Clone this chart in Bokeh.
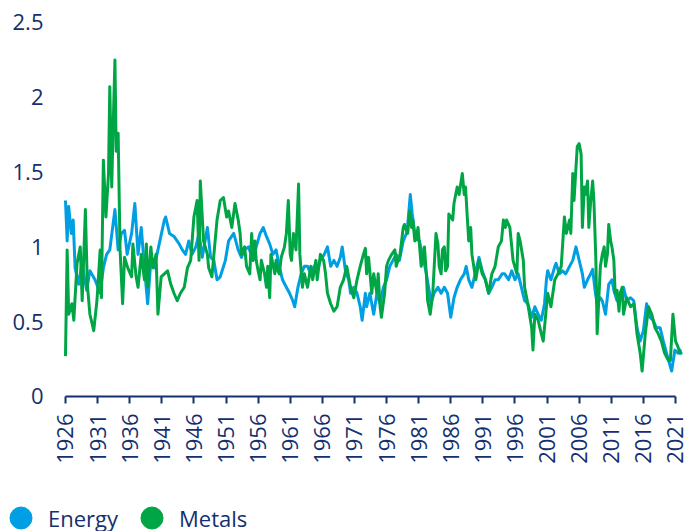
import math
from bokeh.plotting import figure
from bokeh.models import FixedTicker, Legend, LegendItem, Range1d
from bokeh.embed import file_html
from bokeh.resources import INLINE

# ---- data ----
energy_years = [
    1926.0, 1926.26, 1926.5, 1926.9, 1927.2, 1927.5, 1928.05, 1928.56, 1929.3, 1929.8,
    1930.6, 1931.4, 1931.9, 1932.4, 1932.9, 1933.7, 1934.2, 1934.7, 1935.2, 1935.6,
    1936.3, 1936.8, 1937.3, 1937.8, 1938.3, 1938.8, 1939.3, 1939.8, 1940.6, 1941.4,
    1941.6, 1942.2, 1942.9, 1943.7, 1944.2, 1944.7, 1945.2, 1945.7, 1946.3, 1946.8,
    1947.3, 1948.1, 1948.6, 1949.1, 1949.6, 1950.1, 1950.9, 1951.4, 1952.2, 1952.9,
    1953.4, 1953.9, 1954.5, 1955.2, 1955.7, 1956.3, 1956.8, 1957.3, 1957.8, 1958.3,
    1958.8, 1959.3, 1959.8, 1960.4, 1960.9, 1961.4, 1961.7, 1962.2, 1962.7, 1963.2,
    1963.7, 1964.2, 1964.7, 1965.2, 1965.7, 1966.3, 1966.8, 1967.3, 1967.8, 1968.3,
    1968.8, 1969.1, 1969.6, 1970.1, 1970.4, 1970.9, 1971.4, 1971.9, 1972.2, 1972.7,
    1972.9, 1973.4, 1974.0, 1974.5, 1975.0, 1975.5, 1976.0, 1976.5, 1977.0, 1977.5,
    1978.0, 1978.6, 1979.1, 1979.3, 1979.7, 1980.0, 1980.4, 1980.6, 1981.1, 1981.6,
    1982.2, 1982.7, 1982.9, 1983.4, 1984.0, 1984.5, 1985.0, 1985.5, 1986.0, 1986.5,
    1987.0, 1987.5, 1988.1, 1988.4, 1988.8, 1989.3, 1989.8, 1990.4, 1990.9, 1991.4,
    1991.9, 1992.4, 1992.9, 1993.4, 1994.0, 1994.4, 1995.0, 1995.5, 1996.0, 1996.5,
    1997.0, 1997.5, 1998.0, 1998.6, 1999.1, 1999.6, 2000.1, 2000.6, 2000.9, 2001.1,
    2001.6, 2002.2, 2002.4, 2002.9, 2003.4, 2003.9, 2004.5, 2005.0, 2005.5, 2006.0,
    2006.5, 2006.8, 2007.3, 2007.8, 2008.1, 2008.5, 2008.8, 2009.3, 2009.6, 2010.1,
    2010.6, 2011.1, 2011.4, 2011.9, 2012.4, 2012.9, 2013.4, 2014.0, 2014.5, 2015.0,
    2015.5, 2016.0, 2016.5, 2017.0, 2017.5, 2018.0, 2018.6, 2019.1, 2019.6, 2020.4,
    2020.9, 2021.4, 2021.7, 2021.9,
]
energy_values = [
    1.31, 1.04, 1.27, 1.09, 1.18, 0.86, 0.75, 0.89, 0.71, 0.84,
    0.78, 0.69, 0.86, 0.95, 0.98, 1.25, 0.98, 1.09, 1.11, 0.95,
    1.09, 1.29, 0.95, 1.13, 0.86, 0.62, 0.91, 0.86, 1.02, 1.18,
    1.20, 1.09, 1.07, 1.02, 0.98, 0.95, 1.04, 0.95, 1.00, 1.09,
    0.93, 1.13, 0.93, 0.91, 0.78, 0.80, 0.91, 1.04, 1.09, 0.98,
    0.93, 0.98, 1.00, 0.91, 1.00, 1.09, 1.13, 1.07, 1.02, 0.95,
    0.98, 0.87, 0.78, 0.73, 0.69, 0.64, 0.60, 0.73, 0.82, 0.87,
    0.87, 0.82, 0.87, 0.84, 0.91, 0.95, 1.00, 0.87, 0.91, 0.87,
    0.93, 1.00, 0.84, 0.78, 0.69, 0.73, 0.69, 0.60, 0.51, 0.69,
    0.60, 0.69, 0.55, 0.69, 0.62, 0.73, 0.78, 0.87, 0.91, 0.95,
    0.91, 1.04, 1.09, 1.15, 1.35, 1.22, 1.09, 1.06, 1.04, 0.95,
    0.82, 0.69, 0.62, 0.69, 0.73, 0.69, 0.73, 0.69, 0.53, 0.66,
    0.73, 0.78, 0.82, 0.87, 0.78, 0.73, 0.82, 0.93, 0.84, 0.78,
    0.69, 0.73, 0.78, 0.78, 0.82, 0.82, 0.78, 0.84, 0.78, 0.82,
    0.73, 0.64, 0.62, 0.53, 0.60, 0.55, 0.51, 0.62, 0.78, 0.84,
    0.78, 0.87, 0.89, 0.82, 0.84, 0.82, 0.87, 0.91, 1.00, 0.91,
    0.82, 0.73, 0.78, 0.82, 0.85, 0.70, 0.62, 0.66, 0.64, 0.55,
    0.75, 0.78, 0.71, 0.64, 0.69, 0.73, 0.64, 0.66, 0.64, 0.46,
    0.37, 0.44, 0.62, 0.53, 0.51, 0.46, 0.46, 0.37, 0.29, 0.17,
    0.31, 0.29, 0.31, 0.28,
]

metals_years = [
    1926.0, 1926.26, 1926.5, 1927.0, 1927.3, 1927.8, 1928.3, 1928.6, 1929.1, 1929.4,
    1929.8, 1930.4, 1930.9, 1931.4, 1931.6, 1931.9, 1932.3, 1932.7, 1932.9, 1933.2,
    1933.4, 1933.7, 1933.9, 1934.2, 1934.5, 1934.9, 1935.2, 1935.7, 1936.3, 1936.5,
    1937.0, 1937.3, 1937.8, 1938.3, 1938.6, 1938.8, 1939.3, 1939.6, 1940.1, 1940.4,
    1940.9, 1941.4, 1941.9, 1942.4, 1942.9, 1943.4, 1943.9, 1944.5, 1945.0, 1945.5,
    1946.0, 1946.5, 1946.8, 1947.0, 1947.5, 1948.1, 1948.3, 1948.8, 1949.6, 1950.1,
    1950.6, 1951.1, 1951.4, 1951.9, 1952.4, 1952.9, 1953.2, 1953.4, 1953.9, 1954.2,
    1954.7, 1955.0, 1955.2, 1955.5, 1955.7, 1956.0, 1956.3, 1956.5, 1957.0, 1957.3,
    1957.5, 1957.8, 1958.0, 1958.6, 1958.8, 1959.1, 1959.3, 1959.6, 1960.1, 1960.4,
    1960.7, 1961.0, 1961.2, 1961.5, 1961.9, 1962.3, 1962.5, 1962.9, 1963.2, 1963.7,
    1964.2, 1964.5, 1965.0, 1965.2, 1965.7, 1966.2, 1966.5, 1966.8, 1967.3, 1967.8,
    1968.3, 1968.8, 1969.3, 1969.8, 1970.4, 1970.9, 1971.4, 1971.9, 1972.4, 1972.7,
    1972.9, 1973.2, 1973.7, 1974.0, 1974.5, 1974.7, 1975.0, 1975.2, 1975.7, 1976.0,
    1976.3, 1976.8, 1977.3, 1977.5, 1978.1, 1978.6, 1978.8, 1979.3, 1979.6, 1979.9,
    1980.1, 1980.4, 1980.6, 1980.9, 1981.4, 1981.9, 1982.2, 1982.4, 1982.8, 1983.2,
    1983.7, 1984.0, 1984.2, 1984.5, 1984.7, 1985.0, 1985.2, 1985.5, 1985.7, 1986.3,
    1986.5, 1987.0, 1987.3, 1987.8, 1988.1, 1988.3, 1988.6, 1988.8, 1989.1, 1989.3,
    1989.9, 1990.4, 1990.9, 1991.4, 1991.9, 1992.4, 1992.9, 1993.4, 1993.9, 1994.2,
    1994.5, 1994.7, 1995.2, 1995.5, 1995.7, 1996.3, 1996.5, 1996.8, 1997.3, 1997.5,
    1998.0, 1998.6, 1998.8, 1999.1, 1999.6, 2000.1, 2000.4, 2000.6, 2000.9, 2001.1,
    2001.6, 2002.2, 2002.7, 2003.2, 2003.7, 2004.0, 2004.5, 2004.7, 2005.0, 2005.2,
    2005.5, 2005.7, 2006.0, 2006.3, 2006.5, 2006.8, 2007.0, 2007.3, 2007.5, 2007.8,
    2008.1, 2008.3, 2008.6, 2008.8, 2009.1, 2009.3, 2009.6, 2009.9, 2010.1, 2010.4,
    2010.6, 2010.9, 2011.1, 2011.4, 2011.6, 2011.9, 2012.2, 2012.4, 2012.7, 2012.9,
    2013.4, 2014.0, 2014.5, 2014.7, 2015.0, 2015.5, 2015.8, 2016.3, 2016.8, 2017.3,
    2017.8, 2018.3, 2018.8, 2019.3, 2019.9, 2020.2, 2020.6, 2021.0, 2021.4, 2021.7,
    2021.9,
]
metals_values = [
    0.27, 0.98, 0.55, 0.62, 0.51, 0.89, 1.00, 0.64, 1.25, 0.75,
    0.55, 0.44, 0.64, 0.98, 0.66, 1.58, 1.20, 1.49, 2.07, 1.40,
    1.76, 2.25, 1.64, 1.76, 0.98, 0.62, 0.93, 0.86, 0.80, 1.02,
    0.80, 0.73, 0.95, 0.78, 1.02, 0.73, 1.00, 0.86, 0.95, 0.55,
    0.80, 0.82, 0.84, 0.75, 0.69, 0.64, 0.69, 0.73, 0.86, 0.91,
    1.20, 1.31, 0.91, 1.44, 1.04, 0.95, 0.86, 0.80, 1.18, 1.31,
    1.33, 1.20, 1.24, 1.13, 1.29, 1.18, 1.09, 0.95, 1.00, 0.87,
    0.82, 1.09, 0.91, 1.04, 0.91, 0.84, 0.78, 0.91, 0.82, 0.73,
    0.87, 0.66, 0.95, 0.82, 0.91, 0.84, 0.82, 0.93, 1.00, 1.09,
    1.31, 0.95, 0.91, 1.09, 0.98, 1.42, 0.95, 0.73, 0.82, 0.73,
    0.87, 0.78, 0.91, 0.78, 0.95, 0.91, 0.82, 0.69, 0.62, 0.57,
    0.60, 0.73, 0.78, 0.87, 0.73, 0.66, 0.78, 0.87, 0.95, 0.99,
    0.82, 0.93, 0.69, 0.82, 0.69, 0.82, 0.60, 0.53, 0.69, 0.87,
    0.91, 0.95, 0.98, 0.87, 0.95, 1.13, 1.15, 1.09, 1.24, 1.13,
    1.18, 1.04, 1.05, 1.13, 0.87, 1.00, 0.82, 0.64, 0.55, 0.69,
    1.09, 1.02, 0.87, 0.82, 0.98, 1.00, 0.84, 0.87, 1.22, 1.18,
    1.29, 1.40, 1.35, 1.49, 1.35, 1.40, 1.18, 1.04, 1.13, 0.95,
    0.78, 0.91, 0.82, 0.78, 0.69, 0.82, 0.87, 1.00, 1.04, 1.18,
    1.13, 1.18, 1.13, 1.00, 0.91, 0.82, 1.09, 1.04, 0.91, 0.73,
    0.62, 0.46, 0.31, 0.55, 0.51, 0.42, 0.37, 0.46, 0.60, 0.69,
    0.60, 0.78, 0.82, 0.87, 1.20, 1.09, 1.18, 1.09, 1.49, 1.31,
    1.53, 1.67, 1.69, 1.62, 1.13, 1.40, 1.35, 1.44, 1.13, 1.31,
    1.44, 1.30, 0.91, 0.42, 0.69, 0.87, 0.95, 1.00, 0.87, 0.95,
    1.15, 1.04, 1.00, 0.91, 0.69, 0.71, 0.57, 0.69, 0.73, 0.55,
    0.66, 0.60, 0.62, 0.55, 0.42, 0.29, 0.17, 0.42, 0.60, 0.55,
    0.46, 0.42, 0.37, 0.29, 0.24, 0.24, 0.55, 0.37, 0.33, 0.29,
    0.30,
]

x_tick_years = list(range(1926, 2022, 5))
y_ticks = [0, 0.5, 1, 1.5, 2, 2.5]
y_tick_labels = ["0", "0.5", "1", "1.5", "2", "2.5"]
series_names = ["Energy", "Metals"]

NAVY = "#14306e"
ENERGY_C = "#009fe3"
METALS_C = "#00a646"
FONT = "Open Sans"

# The frame fills the whole canvas; both axes are pinned with fixed_location
# so the legend strip below the axis can sit inside the (unclipped) frame.
p = figure(width=689, height=531, output_backend="svg", toolbar_location=None,
           x_range=Range1d(1915.88, 2023.18), y_range=Range1d(-0.9024, 2.647),
           min_border=0, min_border_left=0, min_border_right=0,
           min_border_top=0, min_border_bottom=0)
p.outline_line_color = None
p.grid.visible = False

p.line(energy_years, energy_values, line_color=ENERGY_C, line_width=3, line_join="round")
p.line(metals_years, metals_values, line_color=METALS_C, line_width=3, line_join="round")

# x axis (pinned at y = 0)
xa = p.xaxis[0]
xa.fixed_location = 0
xa.bounds = (x_tick_years[0], x_tick_years[-1])
xa.ticker = FixedTicker(ticks=x_tick_years)
xa.minor_tick_line_color = None
xa.major_tick_in = 0
xa.major_tick_out = 7
xa.major_tick_line_color = NAVY
xa.major_tick_line_width = 2
xa.axis_line_color = NAVY
xa.axis_line_width = 2
xa.major_label_orientation = math.pi / 2
xa.major_label_standoff = 10
xa.major_label_text_font = FONT
xa.major_label_text_font_size = "22px"
xa.major_label_text_color = NAVY

# y axis (pinned at the first year)
ya = p.yaxis[0]
ya.fixed_location = x_tick_years[0]
ya.ticker = FixedTicker(ticks=y_ticks)
ya.major_label_overrides = {t: s for t, s in zip(y_ticks, y_tick_labels)}
ya.axis_line_color = None
ya.major_tick_line_color = None
ya.minor_tick_line_color = None
ya.major_label_standoff = 16
ya.major_label_text_font = FONT
ya.major_label_text_font_size = "22px"
ya.major_label_text_color = NAVY

# legend proxies (NaN points are not drawn)
nan = float("nan")
e_proxy = p.scatter([nan], [nan], size=22, fill_color=ENERGY_C, line_color=ENERGY_C)
m_proxy = p.scatter([nan], [nan], size=22, fill_color=METALS_C, line_color=METALS_C)

legend = Legend(items=[LegendItem(label=series_names[0], renderers=[e_proxy]),
                       LegendItem(label=series_names[1], renderers=[m_proxy])],
                location=(-7, -14), orientation="horizontal",
                padding=0, margin=0, spacing=6, label_standoff=-5,
                glyph_width=55, glyph_height=55,
                border_line_color=None, background_fill_alpha=0,
                label_text_font=FONT, label_text_font_size="22px",
                label_text_color=NAVY)
p.add_layout(legend)

open("out.html", "w").write(file_html(p, INLINE))
